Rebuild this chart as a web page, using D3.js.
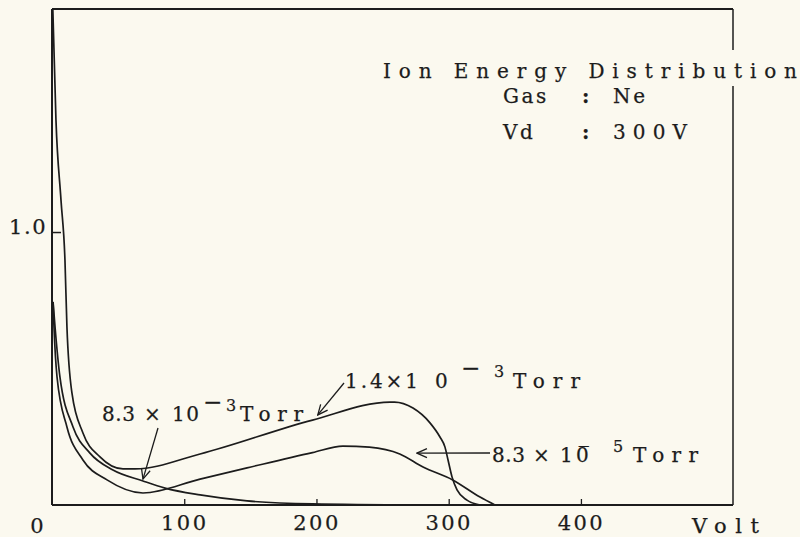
<!DOCTYPE html>
<html>
<head>
<meta charset="utf-8">
<script src="https://cdn.jsdelivr.net/npm/d3@7"></script>
<style>
  html, body { margin: 0; padding: 0; background: #fbf9ef; }
  svg { display: block; }
  text { font-family: "DejaVu Serif", "Liberation Serif", serif; fill: #1c1c1c; stroke: #1c1c1c; stroke-width: 0.25px; }
</style>
</head>
<body>
<div id="chart"></div>
<script>
// Ion energy distribution, Ne gas, Vd = 300V
// x: ion energy (Volt), y: normalized intensity

// 1.4 x 10^-3 Torr
const p14Volt = [0.6, 3.0, 6.8, 9.8, 11.3, 15.1, 23.4, 36.3, 53.7, 62.8, 112, 197, 255.6, 259, 273, 286, 293.4, 297.2, 299.5, 302.5, 306.3, 313.8, 323.7];
const p14Value = [1.82, 1.41, 1.117, 0.897, 0.652, 0.410, 0.264, 0.176, 0.132, 0.132, 0.187, 0.311, 0.377, 0.377, 0.355, 0.300, 0.249, 0.212, 0.165, 0.103, 0.055, 0.018, 0];

// 8.3 x 10^-5 Torr
const p83e5Volt = [0.8, 1.5, 3.8, 11.3, 23.4, 41.6, 68.8, 112, 147.5, 197, 220, 240, 263, 280.6, 303, 323.7, 335];
const p83e5Value = [0.744, 0.652, 0.469, 0.286, 0.165, 0.092, 0.044, 0.095, 0.136, 0.192, 0.216, 0.212, 0.187, 0.139, 0.092, 0.029, 0];

// 8.3 x 10^-3 Torr
const p83e3Volt = [0.8, 2.3, 6.0, 15.9, 28.7, 46.1, 68.8, 85.5, 112, 147.5, 197, 278];
const p83e3Value = [0.744, 0.652, 0.469, 0.286, 0.190, 0.128, 0.088, 0.062, 0.037, 0.015, 0.004, 0];

const xTicks = [100, 200, 300, 400];
const yTicks = [1.0];
const xMax = 515;
const yMax = 1.817;

const title = "Ion Energy Distribution";
const infoLabels = ["Gas", "Vd"];
const infoValues = ["Ne", "300V"];

const width = 800, height = 537;
const margin = {top: 9, right: 67, bottom: 32, left: 52};

const svg = d3.select("#chart")
    .append("svg")
    .attr("width", width)
    .attr("height", height);

svg.append("rect").attr("width", width).attr("height", height).attr("fill", "#fbf9ef");

const x = d3.scaleLinear().domain([0, xMax]).range([margin.left, width - margin.right]);
const y = d3.scaleLinear().domain([0, yMax]).range([height - margin.bottom, margin.top]);

const ink = "#1c1c1c";
const font = "DejaVu Serif";

// clip curves to the frame
svg.append("clipPath").attr("id", "plot-clip")
    .append("rect")
    .attr("x", x(0)).attr("y", y(yMax))
    .attr("width", x(xMax) - x(0)).attr("height", y(0) - y(yMax));

// frame
const frame = svg.append("g").attr("stroke", ink).attr("fill", "none");
frame.append("line").attr("x1", x(0)).attr("x2", x(0)).attr("y1", y(yMax)).attr("y2", y(0)).attr("stroke-width", 2);
frame.append("line").attr("x1", x(0)).attr("x2", x(xMax)).attr("y1", y(yMax)).attr("y2", y(yMax)).attr("stroke-width", 2);
frame.append("line").attr("x1", x(0)).attr("x2", x(xMax)).attr("y1", y(0)).attr("y2", y(0)).attr("stroke-width", 2);
// right side has a gap where the title passes
frame.append("line").attr("x1", x(xMax)).attr("x2", x(xMax)).attr("y1", y(yMax)).attr("y2", 50).attr("stroke-width", 1.5);
frame.append("line").attr("x1", x(xMax)).attr("x2", x(xMax)).attr("y1", 86).attr("y2", y(0)).attr("stroke-width", 1.5);

// x axis ticks (pointing up)
const xAxis = svg.append("g")
    .attr("transform", `translate(0, ${y(0)})`)
    .call(d3.axisBottom(x).tickValues(xTicks).tickSize(-6).tickPadding(10).tickFormat(d3.format("d")));
xAxis.select(".domain").remove();
xAxis.selectAll("line").attr("stroke", ink).attr("stroke-width", 1.3);
xAxis.selectAll("text")
    .attr("fill", ink)
    .style("font-family", font)
    .style("font-size", "21px")
    .style("letter-spacing", "2.5px");

svg.append("text")
    .attr("x", x(0) - 15).attr("y", 533)
    .attr("text-anchor", "middle")
    .style("font-size", "21px")
    .text("0");

svg.append("text")
    .attr("x", 692).attr("y", 533)
    .attr("textLength", 67).attr("lengthAdjust", "spacing")
    .style("font-size", "21px")
    .text("Volt");

// y axis tick (pointing right)
const yAxis = svg.append("g")
    .attr("transform", `translate(${x(0)}, 0)`)
    .call(d3.axisLeft(y).tickValues(yTicks).tickSize(-9).tickPadding(5).tickFormat(d3.format(".1f")));
yAxis.select(".domain").remove();
yAxis.selectAll("line").attr("stroke", ink).attr("stroke-width", 1.5);
yAxis.selectAll("text")
    .attr("fill", ink)
    .attr("dy", "0.05em")
    .style("font-family", font)
    .style("font-size", "21px")
    .style("letter-spacing", "1.5px");

// curves
const line = d3.line()
    .x(d => x(d[0]))
    .y(d => y(d[1]))
    .curve(d3.curveMonotoneX);

const series = [
    d3.zip(p14Volt, p14Value),
    d3.zip(p83e5Volt, p83e5Value),
    d3.zip(p83e3Volt, p83e3Value)
];

svg.append("g")
    .attr("clip-path", "url(#plot-clip)")
    .selectAll("path")
    .data(series)
    .enter()
    .append("path")
    .attr("d", line)
    .attr("fill", "none")
    .attr("stroke", ink)
    .attr("stroke-width", 1.7)
    .attr("stroke-linejoin", "round");

// open arrowheads
svg.append("defs").append("marker")
    .attr("id", "arrow")
    .attr("viewBox", "0 -6 12 12")
    .attr("refX", 11).attr("refY", 0)
    .attr("markerWidth", 12).attr("markerHeight", 12)
    .attr("markerUnits", "userSpaceOnUse")
    .attr("orient", "auto")
    .append("path")
    .attr("d", "M1,-4.5L11,0L1,4.5")
    .attr("fill", "none")
    .attr("stroke", ink)
    .attr("stroke-width", 1.3);

// annotation: label pieces are [text, x offset, width, raise, font size]
function drawLabel(x0, baseline, pieces) {
    const g = svg.append("g");
    pieces.forEach(p => {
        const t = g.append("text")
            .attr("x", x0 + p[1])
            .attr("y", baseline - (p[3] || 0))
            .style("font-size", (p[4] || 20) + "px")
            .text(p[0]);
        if (p[0].length > 1 && p[2]) t.attr("textLength", p[2]).attr("lengthAdjust", "spacing");
    });
}

function drawArrow(x1, y1, v, val) {
    svg.append("line")
        .attr("x1", x1).attr("y1", y1)
        .attr("x2", x(v)).attr("y2", y(val))
        .attr("stroke", ink)
        .attr("stroke-width", 1.3)
        .attr("marker-end", "url(#arrow)");
}

// 1.4 x 10^-3 Torr
drawLabel(345, 388, [["1.4×1", 0, 73], ["0", 90], ["−", 116, 0, 12, 23], ["3", 149, 0, 11, 16], ["Torr", 168, 67]]);
drawArrow(344, 383, 201, 0.33);

// 8.3 x 10^-3 Torr
drawLabel(102, 421, [["8.3", 0, 33], ["×", 42], ["10", 70, 27], ["−", 101, 0, 11, 23], ["3", 124, 0, 10, 16], ["Torr", 138, 63]]);
drawArrow(158, 428, 68.8, 0.095);

// 8.3 x 10^-5 Torr (minus written as a bar over the zero)
drawLabel(492, 462, [["8.3", 0, 33], ["×", 41], ["1", 68], ["0\u0305", 84], ["5", 121, 0, 10, 16], ["Torr", 141, 65]]);
drawArrow(490, 453, 276, 0.19);

// title and conditions
svg.append("text")
    .attr("x", 383).attr("y", 78)
    .attr("textLength", 414).attr("lengthAdjust", "spacing")
    .style("font-size", "20px")
    .text(title);

infoLabels.forEach((lab, i) => {
    const by = 103 + i * 36;
    svg.append("text").attr("x", 503).attr("y", by)
        .style("font-size", "20px").style("letter-spacing", "2.5px").text(lab);
    svg.append("text").attr("x", 582).attr("y", by)
        .style("font-size", "20px").style("font-weight", "bold").text(":");
    svg.append("text").attr("x", 613).attr("y", by)
        .attr("textLength", i === 0 ? 32 : 74).attr("lengthAdjust", "spacing")
        .style("font-size", "20px").text(infoValues[i]);
});
</script>
</body>
</html>
